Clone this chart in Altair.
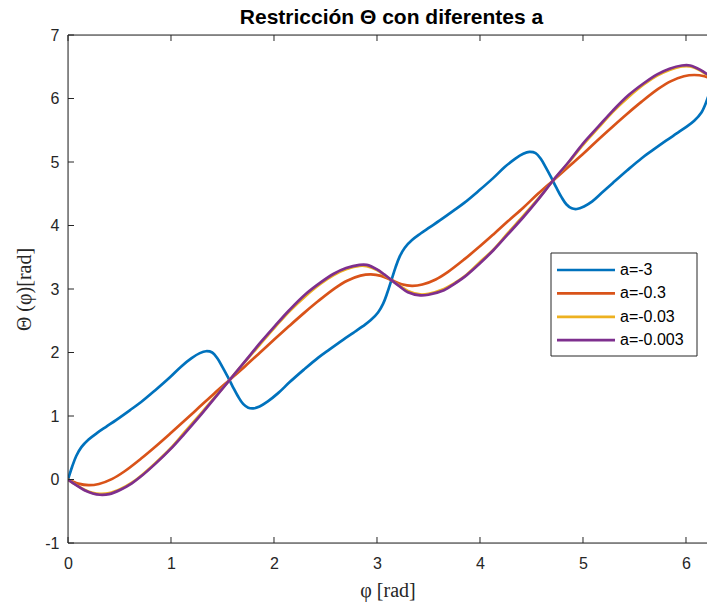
import altair as alt
import pandas as pd

# Series: Theta(phi) for several values of a
labels = ["a=-3", "a=-0.3", "a=-0.03", "a=-0.003"]
colors = ["#0072BD", "#D95319", "#EDB120", "#7E2F8E"]
title_text = "Restricción Θ con diferentes a"

phi_a3 = [0.00, 0.04, 0.08, 0.13, 0.20, 0.28, 0.37, 0.47, 0.60, 0.71, 0.85, 0.99,
          1.10, 1.20, 1.28, 1.34, 1.40, 1.45, 1.50, 1.55, 1.60, 1.65, 1.70, 1.75,
          1.80, 1.86, 1.94, 2.04, 2.15, 2.29, 2.43, 2.54, 2.67, 2.77, 2.86, 2.94,
          3.01, 3.06, 3.10, 3.14, 3.18, 3.22, 3.27, 3.34, 3.42, 3.51, 3.61, 3.74,
          3.85, 3.99, 4.13, 4.24, 4.34, 4.42, 4.48, 4.54, 4.59, 4.64, 4.69, 4.74,
          4.79, 4.84, 4.89, 4.94, 5.01, 5.09, 5.18, 5.29, 5.43, 5.57, 5.68, 5.81,
          5.91, 6.00, 6.08, 6.15, 6.20, 6.215]
theta_a3 = [0.00, 0.20, 0.37, 0.51, 0.63, 0.73, 0.83, 0.94, 1.09, 1.22, 1.41, 1.61,
            1.78, 1.91, 1.99, 2.02, 2.00, 1.91, 1.77, 1.62, 1.46, 1.31, 1.19, 1.13,
            1.12, 1.15, 1.23, 1.36, 1.53, 1.73, 1.92, 2.05, 2.20, 2.31, 2.41, 2.51,
            2.63, 2.77, 2.94, 3.14, 3.34, 3.51, 3.65, 3.77, 3.87, 3.97, 4.08, 4.23,
            4.36, 4.55, 4.75, 4.92, 5.05, 5.13, 5.16, 5.14, 5.05, 4.91, 4.76, 4.60,
            4.45, 4.33, 4.27, 4.26, 4.30, 4.38, 4.51, 4.67, 4.87, 5.06, 5.19, 5.34,
            5.45, 5.55, 5.65, 5.78, 5.96, 6.03]

phi_a03 = [0.00, 0.10, 0.20, 0.30, 0.43, 0.55, 0.71, 0.85, 0.99, 1.13, 1.275, 1.42,
           1.57, 1.72, 1.865, 2.01, 2.15, 2.29, 2.43, 2.59, 2.71, 2.84, 2.94, 3.04,
           3.14, 3.24, 3.34, 3.44, 3.57, 3.69, 3.85, 3.99, 4.13, 4.27, 4.42, 4.56,
           4.71, 4.86, 5.01, 5.15, 5.29, 5.43, 5.57, 5.73, 5.85, 5.98, 6.08, 6.18,
           6.215]
theta_a03 = [0.00, -0.065, -0.09, -0.07, 0.01, 0.13, 0.33, 0.52, 0.72, 0.925, 1.14, 1.355,
             1.57, 1.785, 2.00, 2.215, 2.42, 2.62, 2.81, 3.01, 3.13, 3.21, 3.23, 3.207,
             3.14, 3.075, 3.05, 3.07, 3.15, 3.27, 3.47, 3.66, 3.86, 4.065, 4.28, 4.495,
             4.71, 4.925, 5.14, 5.355, 5.56, 5.76, 5.95, 6.15, 6.27, 6.35, 6.37, 6.35,
             6.33]

phi_a003 = [0.00, 0.08, 0.16, 0.24, 0.31, 0.40, 0.51, 0.62, 0.71, 0.85, 0.99, 1.13,
            1.275, 1.42, 1.57, 1.72, 1.865, 2.01, 2.15, 2.30, 2.45, 2.58, 2.70, 2.83,
            2.90, 3.00, 3.07, 3.14, 3.22, 3.30, 3.42, 3.50, 3.65, 3.76, 3.85, 3.99,
            4.13, 4.27, 4.42, 4.57, 4.71, 4.86, 5.00, 5.15, 5.29, 5.44, 5.59, 5.72,
            5.84, 5.96, 6.04, 6.14, 6.215]
theta_a003 = [0.00, -0.085, -0.16, -0.21, -0.225, -0.215, -0.15, -0.05, 0.06, 0.26, 0.48, 0.74,
              1.01, 1.285, 1.57, 1.855, 2.13, 2.40, 2.65, 2.88, 3.08, 3.22, 3.31, 3.365,
              3.36, 3.30, 3.22, 3.14, 3.05, 2.97, 2.915, 2.925, 3.00, 3.10, 3.20, 3.41,
              3.62, 3.88, 4.15, 4.43, 4.71, 4.99, 5.27, 5.54, 5.79, 6.02, 6.22, 6.36,
              6.45, 6.505, 6.505, 6.44, 6.36]

phi_a0003 = [0.00, 0.08, 0.16, 0.24, 0.31, 0.40, 0.51, 0.62, 0.71, 0.85, 0.99, 1.13,
             1.275, 1.42, 1.57, 1.72, 1.865, 2.01, 2.15, 2.30, 2.45, 2.58, 2.70, 2.83,
             2.90, 3.00, 3.07, 3.14, 3.22, 3.30, 3.42, 3.50, 3.65, 3.76, 3.85, 3.99,
             4.13, 4.27, 4.42, 4.57, 4.71, 4.86, 5.00, 5.15, 5.29, 5.44, 5.59, 5.72,
             5.84, 5.96, 6.04, 6.14, 6.215]
theta_a0003 = [0.00, -0.09, -0.17, -0.22, -0.24, -0.23, -0.16, -0.06, 0.05, 0.25, 0.47, 0.72,
               0.99, 1.275, 1.57, 1.865, 2.15, 2.42, 2.67, 2.91, 3.10, 3.24, 3.33, 3.38,
               3.38, 3.31, 3.23, 3.14, 3.04, 2.95, 2.90, 2.91, 2.98, 3.09, 3.19, 3.39,
               3.61, 3.86, 4.13, 4.42, 4.71, 5.00, 5.29, 5.56, 5.81, 6.05, 6.24, 6.38,
               6.47, 6.52, 6.52, 6.45, 6.37]

series_phi = [phi_a3, phi_a03, phi_a003, phi_a0003]
series_theta = [theta_a3, theta_a03, theta_a003, theta_a0003]

x_ticks = [0, 1, 2, 3, 4, 5, 6]
y_ticks = [-1, 0, 1, 2, 3, 4, 5, 6, 7]

W, H = 639, 508
TEXT = "#262626"
SANS = "Liberation Sans"
SERIF = "Liberation Serif"

x_scale = alt.Scale(domain=[0, 6.204], nice=False, zero=False)
y_scale = alt.Scale(domain=[-1, 7], nice=False, zero=False)

x_axis = alt.Axis(values=x_ticks, title="φ [rad]", grid=False, domain=False, ticks=False,
                  labelFont=SANS, labelFontSize=16, labelColor=TEXT, labelPadding=12,
                  labelExpr="'' + datum.value",
                  titleFont=SERIF, titleFontSize=20, titleFontWeight="normal",
                  titleColor=TEXT, titlePadding=9, labelFlush=False)
y_axis = alt.Axis(values=y_ticks, title="Θ (φ)[rad]", grid=False, domain=False, ticks=False,
                  labelFont=SANS, labelFontSize=16, labelColor=TEXT, labelPadding=9,
                  labelExpr="'' + datum.value",
                  titleFont=SERIF, titleFontSize=20, titleFontWeight="normal",
                  titleColor=TEXT, titlePadding=10, labelFlush=False)

layers = []

# One line layer per series, so later series are drawn on top
for k, (lab, col) in enumerate(zip(labels, colors)):
    df = pd.DataFrame({"phi": series_phi[k], "theta": series_theta[k], "serie": lab})
    line = alt.Chart(df).mark_line(strokeWidth=2.7, interpolate="catmull-rom", clip=True,
                                   color=col).encode(
        x=alt.X("phi:Q", scale=x_scale, axis=x_axis),
        y=alt.Y("theta:Q", scale=y_scale, axis=y_axis),
    )
    layers.append(line)

# Box frame (left, top, bottom)
frame_df = pd.DataFrame({"k": [0]})
frame = [
    alt.Chart(frame_df).mark_rule(color=TEXT, strokeWidth=1).encode(
        x=alt.value(0), x2=alt.value(W), y=alt.value(0)),
    alt.Chart(frame_df).mark_rule(color=TEXT, strokeWidth=1).encode(
        x=alt.value(0), x2=alt.value(W), y=alt.value(H)),
    alt.Chart(frame_df).mark_rule(color=TEXT, strokeWidth=1).encode(
        x=alt.value(0), y=alt.value(0), y2=alt.value(H)),
]

# Inward tick marks
xt = pd.DataFrame({"v": x_ticks})
yt = pd.DataFrame({"v": y_ticks})
TL = 6
ticks = [
    alt.Chart(xt).mark_rule(color=TEXT, strokeWidth=1).encode(
        x=alt.X("v:Q", scale=x_scale, axis=x_axis), y=alt.value(H), y2=alt.value(H - TL)),
    alt.Chart(xt).mark_rule(color=TEXT, strokeWidth=1).encode(
        x=alt.X("v:Q", scale=x_scale, axis=x_axis), y=alt.value(0), y2=alt.value(TL)),
    alt.Chart(yt).mark_rule(color=TEXT, strokeWidth=1).encode(
        y=alt.Y("v:Q", scale=y_scale, axis=y_axis), x=alt.value(0), x2=alt.value(TL)),
]

# Legend box with line samples
LX0, LX1, LY0, LY1 = 483, 629, 218, 321
legend_box = alt.Chart(frame_df).mark_rect(fill="white", stroke=TEXT, strokeWidth=1).encode(
    x=alt.value(LX0), x2=alt.value(LX1), y=alt.value(LY0), y2=alt.value(LY1))
legend_items = []
for k, (lab, col) in enumerate(zip(labels, colors)):
    row_y = 235 + k * 23.4
    legend_items.append(
        alt.Chart(frame_df).mark_rule(color=col, strokeWidth=2.7).encode(
            x=alt.value(489), x2=alt.value(547), y=alt.value(row_y)))
    legend_items.append(
        alt.Chart(frame_df).mark_text(text=lab, align="left", baseline="middle",
                                      font=SANS, fontSize=16, color="black").encode(
            x=alt.value(552), y=alt.value(row_y)))

# Title above the axes box
title_mark = alt.Chart(frame_df).mark_text(
    text=title_text, align="center", baseline="alphabetic", font=SANS, fontSize=21,
    fontWeight="bold", color="black").encode(x=alt.value(W / 2 + 4), y=alt.value(-11))

chart = alt.layer(*layers, *ticks, *frame, legend_box, *legend_items, title_mark).properties(
    width=W, height=H,
    autosize=alt.AutoSizeParams(type="none"),
    padding={"left": 68, "top": 35, "right": 0, "bottom": 64},
).configure_view(stroke=None).configure(background="white")

chart.save("out.html", embed_options={"renderer": "svg", "actions": False})
